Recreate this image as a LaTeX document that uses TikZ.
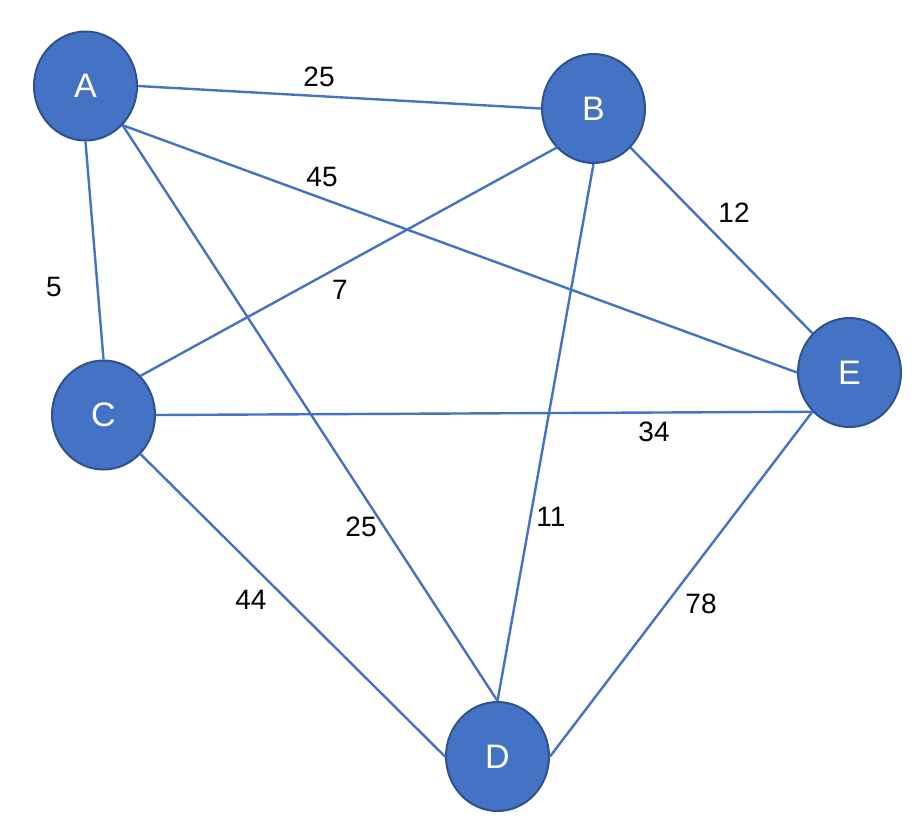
\documentclass[tikz,border=0pt]{standalone}
\usepackage{fontspec}
\setmainfont{Liberation Sans}
\usetikzlibrary{shapes.geometric}
\definecolor{nodefill}{HTML}{4472C4}
\definecolor{nodeborder}{HTML}{2F528F}
\definecolor{edgecol}{HTML}{4472C4}
\begin{document}
\begin{tikzpicture}[x=1pt,y=-1pt,
  vertex/.style={ellipse, draw=nodeborder, line width=2pt, fill=nodefill,
    minimum width=103pt, minimum height=109pt, inner sep=0pt,
    text=white, font=\fontsize{34}{40}\selectfont},
  edge/.style={draw=edgecol, line width=2.4pt},
  wlabel/.style={inner sep=0pt, font=\fontsize{28}{32}\selectfont, text=black}]
\useasboundingbox[fill=white] (0,0) rectangle (920,822);
\node[vertex] (A) at (85.5,86) {A};
\node[vertex] (B) at (593.5,108.5) {B};
\node[vertex] (C) at (103.5,415) {C};
\node[vertex] (D) at (497.5,756.5) {D};
\node[vertex] (E) at (849.5,372.5) {E};
\draw[edge] (A.east) -- (B.west);
\draw[edge] (A.south) -- (C.north);
\draw[edge] (A.south east) -- (D.north);
\draw[edge] (A.south east) -- (E.west);
\draw[edge] (B.south west) -- (C.north east);
\draw[edge] (B.south) -- (D.north);
\draw[edge] (B.south east) -- (E.north west);
\draw[edge] (C.east) -- (E.south west);
\draw[edge] (C.south east) -- (D.west);
\draw[edge] (D.east) -- (E.south west);
\node[wlabel] (lab) at (319,77) {25};
\node[wlabel] (lae) at (322,177) {45};
\node[wlabel] (lac) at (54,287) {5};
\node[wlabel] (lbc) at (340,290) {7};
\node[wlabel] (lbe) at (734,213) {12};
\node[wlabel] (lce) at (654,432) {34};
\node[wlabel] (lad) at (361,527) {25};
\node[wlabel] (lbd) at (551,517) {11};
\node[wlabel] (lcd) at (251,600) {44};
\node[wlabel] (lde) at (701,604) {78};
\end{tikzpicture}
\end{document}
